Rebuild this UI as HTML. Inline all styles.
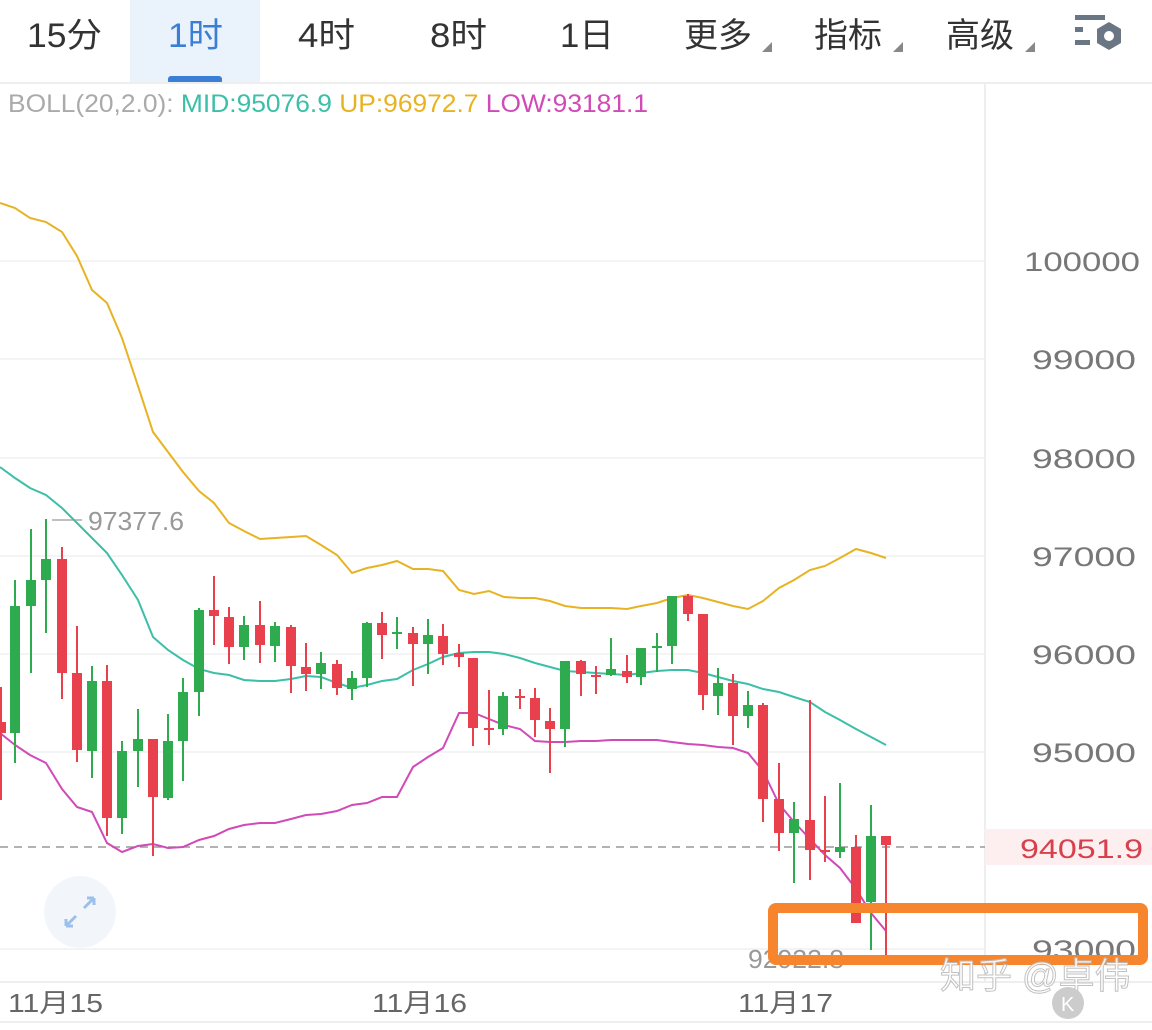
<!DOCTYPE html>
<html><head><meta charset="utf-8"><style>
body{margin:0;background:#fff;width:1152px;height:1025px;overflow:hidden;font-family:"Liberation Sans","Noto Sans CJK SC",sans-serif}
</style></head><body>
<svg width="1152" height="1025" xmlns="http://www.w3.org/2000/svg" font-family="Liberation Sans, Noto Sans CJK SC, sans-serif">
<rect x="130" y="0" width="130" height="82" fill="#eaf2fc"/>
<rect x="168" y="76" width="54" height="8" rx="3" fill="#3a7fd5"/>
<line x1="0" y1="83" x2="1152" y2="83" stroke="#eee" stroke-width="2"/>
<g font-size="34" fill="#333">
<text x="27" y="47" textLength="75" lengthAdjust="spacingAndGlyphs">15分</text>
<text x="168" y="47" fill="#3a7fd5" textLength="55" lengthAdjust="spacingAndGlyphs">1时</text>
<text x="298" y="47" textLength="57" lengthAdjust="spacingAndGlyphs">4时</text>
<text x="430" y="47" textLength="57" lengthAdjust="spacingAndGlyphs">8时</text>
<text x="560" y="47" textLength="54" lengthAdjust="spacingAndGlyphs">1日</text>
<text x="684" y="47">更多</text>
<text x="814" y="47">指标</text>
<text x="946" y="47">高级</text>
</g>
<g fill="#888"><path d="M762 52 L772 42 L772 52Z"/><path d="M893 52 L903 42 L903 52Z"/><path d="M1025 52 L1035 42 L1035 52Z"/></g>
<g fill="#6b7684"><rect x="1075" y="15" width="30" height="5"/><rect x="1075" y="27" width="8" height="5"/><rect x="1075" y="40" width="15" height="5"/>
<polygon points="1109,22 1121,29 1121,43 1109,50 1097,43 1097,29"/><circle cx="1109" cy="36" r="5" fill="#fff"/></g>
<line x1="985" y1="84" x2="985" y2="982" stroke="#eee" stroke-width="2"/>
<g stroke="#f0f0f0" stroke-width="1.5">
<line x1="0" y1="261" x2="985" y2="261"/><line x1="0" y1="359" x2="985" y2="359"/><line x1="0" y1="458" x2="985" y2="458"/><line x1="0" y1="556" x2="985" y2="556"/><line x1="0" y1="654" x2="985" y2="654"/><line x1="0" y1="752" x2="985" y2="752"/><line x1="0" y1="949" x2="985" y2="949"/>
</g>
<line x1="0" y1="982" x2="1152" y2="982" stroke="#eee" stroke-width="2"/>
<line x1="0" y1="1022" x2="1152" y2="1022" stroke="#eee" stroke-width="2"/>
<text x="8" y="112" font-size="25" textLength="640" lengthAdjust="spacingAndGlyphs"><tspan fill="#aaa">BOLL(20,2.0): </tspan><tspan fill="#3cbfa8">MID:95076.9 </tspan><tspan fill="#e8b323">UP:96972.7 </tspan><tspan fill="#d04ab8">LOW:93181.1</tspan></text>
<g font-size="27" fill="#777">
<text x="1024" y="271" textLength="116" lengthAdjust="spacingAndGlyphs">100000</text>
<text x="1032" y="369" textLength="104" lengthAdjust="spacingAndGlyphs">99000</text>
<text x="1032" y="468" textLength="104" lengthAdjust="spacingAndGlyphs">98000</text>
<text x="1032" y="566" textLength="104" lengthAdjust="spacingAndGlyphs">97000</text>
<text x="1032" y="664" textLength="104" lengthAdjust="spacingAndGlyphs">96000</text>
<text x="1032" y="762" textLength="104" lengthAdjust="spacingAndGlyphs">95000</text>
<text x="1032" y="959" textLength="104" lengthAdjust="spacingAndGlyphs">93000</text>
</g>
<rect x="985" y="829" width="167" height="36" fill="#fdeff0"/>
<text x="1020" y="858" font-size="27" fill="#d8404c" textLength="123" lengthAdjust="spacingAndGlyphs">94051.9</text>
<line x1="0" y1="847" x2="985" y2="847" stroke="#999" stroke-width="1.5" stroke-dasharray="8,6"/>
<g font-size="26" fill="#666"><text x="8" y="1012" textLength="95" lengthAdjust="spacingAndGlyphs">11月15</text><text x="372" y="1012" textLength="95" lengthAdjust="spacingAndGlyphs">11月16</text><text x="738" y="1012" textLength="95" lengthAdjust="spacingAndGlyphs">11月17</text></g>
<line x1="52" y1="520" x2="82" y2="520" stroke="#aaa" stroke-width="1.5"/>
<text x="88" y="530" font-size="26" fill="#999" textLength="96" lengthAdjust="spacingAndGlyphs">97377.6</text>
<text x="748" y="968" font-size="26" fill="#999" textLength="96" lengthAdjust="spacingAndGlyphs">92922.8</text>
<circle cx="80" cy="912" r="36" fill="#f2f6fb"/>
<path d="M66 926 L76 916 M66 926 L66 919 M66 926 L73 926 M94 898 L84 908 M94 898 L94 905 M94 898 L87 898" stroke="#9cc0ec" stroke-width="3" fill="none"/>
<polyline fill="none" stroke="#e8b323" stroke-width="2" points="0,203 15,208 30,218 46,222 62,232 77,256 92,290 107,303 122,338 138,386 153,432 168,452 183,472 199,491 214,503 229,523 244,531 260,539 275,538 291,537 306,536 321,545 337,555 352,573 367,568 382,565 397,561 413,569 428,569 443,571 459,590 474,594 489,591 504,597 520,598 535,598 550,601 565,606 581,608 596,608 611,608 627,609 641,606 657,603 672,598 688,595 703,598 718,602 733,606 748,609 763,601 779,588 794,580 810,570 825,566 840,558 856,549 871,553 886,558"/>
<polyline fill="none" stroke="#3cbfa8" stroke-width="2" points="0,467 15,478 30,488 46,495 62,508 77,523 92,538 107,553 122,575 138,600 153,637 168,650 183,660 199,669 214,673 229,675 244,680 260,681 275,681 291,679 306,676 321,677 337,683 352,688 367,685 382,681 397,679 413,670 428,664 443,657 459,653 474,652 489,652 504,654 520,658 535,663 550,667 565,671 581,672 596,673 611,674 627,675 641,673 657,671 672,670 688,670 703,673 718,677 733,681 748,684 763,689 779,692 794,697 810,702 825,712 840,720 856,729 871,737 886,745"/>
<polyline fill="none" stroke="#d04ab8" stroke-width="2" points="0,733 15,745 30,755 46,763 62,789 77,807 92,812 107,843 122,852 138,846 153,844 168,848 183,847 199,840 214,836 229,829 244,825 260,823 275,823 291,819 306,815 321,814 337,811 352,805 367,803 382,797 397,797 413,767 428,757 443,748 459,713 474,713 489,719 504,725 520,729 535,741 550,742 565,742 581,741 596,741 611,740 627,740 641,740 657,740 672,742 688,744 703,745 718,747 733,748 748,753 763,771 779,804 794,822 810,839 825,855 840,868 856,889 871,913 886,931"/>
<g stroke-width="2">
<g fill="#e8404c" stroke="#e8404c">
<line x1="1" y1="687" x2="1" y2="800"/><rect x="-4" y="722" width="10" height="11" stroke="none"/>
<line x1="62" y1="547" x2="62" y2="699"/><rect x="57" y="559" width="10" height="114" stroke="none"/>
<line x1="77" y1="626" x2="77" y2="762"/><rect x="72" y="673" width="10" height="77" stroke="none"/>
<line x1="107" y1="665" x2="107" y2="836"/><rect x="102" y="681" width="10" height="137" stroke="none"/>
<line x1="153" y1="739" x2="153" y2="856"/><rect x="148" y="739" width="10" height="58" stroke="none"/>
<line x1="214" y1="576" x2="214" y2="645"/><rect x="209" y="610" width="10" height="6" stroke="none"/>
<line x1="229" y1="607" x2="229" y2="664"/><rect x="224" y="617" width="10" height="30" stroke="none"/>
<line x1="260" y1="601" x2="260" y2="663"/><rect x="255" y="625" width="10" height="20" stroke="none"/>
<line x1="291" y1="625" x2="291" y2="693"/><rect x="286" y="627" width="10" height="39" stroke="none"/>
<line x1="306" y1="643" x2="306" y2="691"/><rect x="301" y="667" width="10" height="7" stroke="none"/>
<line x1="337" y1="660" x2="337" y2="695"/><rect x="332" y="664" width="10" height="24" stroke="none"/>
<line x1="382" y1="612" x2="382" y2="659"/><rect x="377" y="623" width="10" height="12" stroke="none"/>
<line x1="413" y1="627" x2="413" y2="686"/><rect x="408" y="633" width="10" height="11" stroke="none"/>
<line x1="443" y1="624" x2="443" y2="665"/><rect x="438" y="636" width="10" height="18" stroke="none"/>
<line x1="459" y1="644" x2="459" y2="667"/><rect x="454" y="653" width="10" height="4" stroke="none"/>
<line x1="473" y1="658" x2="473" y2="746"/><rect x="468" y="658" width="10" height="70" stroke="none"/>
<line x1="489" y1="690" x2="489" y2="745"/><rect x="484" y="728" width="10" height="2" stroke="none"/>
<line x1="520" y1="689" x2="520" y2="709"/><rect x="515" y="696" width="10" height="2" stroke="none"/>
<line x1="535" y1="688" x2="535" y2="737"/><rect x="530" y="698" width="10" height="22" stroke="none"/>
<line x1="550" y1="708" x2="550" y2="773"/><rect x="545" y="721" width="10" height="8" stroke="none"/>
<line x1="581" y1="660" x2="581" y2="696"/><rect x="576" y="661" width="10" height="13" stroke="none"/>
<line x1="596" y1="666" x2="596" y2="694"/><rect x="591" y="675" width="10" height="2" stroke="none"/>
<line x1="627" y1="655" x2="627" y2="683"/><rect x="622" y="671" width="10" height="6" stroke="none"/>
<line x1="688" y1="594" x2="688" y2="621"/><rect x="683" y="596" width="10" height="18" stroke="none"/>
<line x1="703" y1="614" x2="703" y2="710"/><rect x="698" y="614" width="10" height="81" stroke="none"/>
<line x1="733" y1="674" x2="733" y2="745"/><rect x="728" y="683" width="10" height="33" stroke="none"/>
<line x1="763" y1="703" x2="763" y2="822"/><rect x="758" y="705" width="10" height="94" stroke="none"/>
<line x1="779" y1="763" x2="779" y2="851"/><rect x="774" y="799" width="10" height="34" stroke="none"/>
<line x1="810" y1="700" x2="810" y2="880"/><rect x="805" y="820" width="10" height="30" stroke="none"/>
<line x1="825" y1="796" x2="825" y2="862"/><rect x="820" y="850" width="10" height="2" stroke="none"/>
<line x1="856" y1="835" x2="856" y2="922"/><rect x="851" y="847" width="10" height="76" stroke="none"/>
<line x1="886" y1="836" x2="886" y2="957"/><rect x="881" y="836" width="10" height="9" stroke="none"/>
</g>
<g fill="#2eaa4f" stroke="#2eaa4f">
<line x1="15" y1="580" x2="15" y2="763"/><rect x="10" y="606" width="10" height="127" stroke="none"/>
<line x1="31" y1="529" x2="31" y2="673"/><rect x="26" y="580" width="10" height="26" stroke="none"/>
<line x1="46" y1="519" x2="46" y2="633"/><rect x="41" y="559" width="10" height="21" stroke="none"/>
<line x1="92" y1="666" x2="92" y2="778"/><rect x="87" y="681" width="10" height="70" stroke="none"/>
<line x1="122" y1="741" x2="122" y2="834"/><rect x="117" y="751" width="10" height="67" stroke="none"/>
<line x1="138" y1="709" x2="138" y2="787"/><rect x="133" y="739" width="10" height="12" stroke="none"/>
<line x1="168" y1="714" x2="168" y2="800"/><rect x="163" y="741" width="10" height="57" stroke="none"/>
<line x1="183" y1="678" x2="183" y2="781"/><rect x="178" y="692" width="10" height="49" stroke="none"/>
<line x1="199" y1="608" x2="199" y2="716"/><rect x="194" y="610" width="10" height="82" stroke="none"/>
<line x1="244" y1="616" x2="244" y2="660"/><rect x="239" y="625" width="10" height="22" stroke="none"/>
<line x1="275" y1="622" x2="275" y2="662"/><rect x="270" y="626" width="10" height="20" stroke="none"/>
<line x1="321" y1="652" x2="321" y2="689"/><rect x="316" y="663" width="10" height="11" stroke="none"/>
<line x1="352" y1="671" x2="352" y2="700"/><rect x="347" y="678" width="10" height="11" stroke="none"/>
<line x1="367" y1="622" x2="367" y2="687"/><rect x="362" y="623" width="10" height="55" stroke="none"/>
<line x1="397" y1="617" x2="397" y2="649"/><rect x="392" y="632" width="10" height="2" stroke="none"/>
<line x1="428" y1="619" x2="428" y2="674"/><rect x="423" y="635" width="10" height="9" stroke="none"/>
<line x1="503" y1="692" x2="503" y2="735"/><rect x="498" y="696" width="10" height="33" stroke="none"/>
<line x1="565" y1="661" x2="565" y2="747"/><rect x="560" y="661" width="10" height="68" stroke="none"/>
<line x1="611" y1="638" x2="611" y2="676"/><rect x="606" y="669" width="10" height="6" stroke="none"/>
<line x1="641" y1="648" x2="641" y2="685"/><rect x="636" y="648" width="10" height="29" stroke="none"/>
<line x1="657" y1="633" x2="657" y2="672"/><rect x="652" y="646" width="10" height="2" stroke="none"/>
<line x1="672" y1="596" x2="672" y2="664"/><rect x="667" y="596" width="10" height="50" stroke="none"/>
<line x1="718" y1="668" x2="718" y2="715"/><rect x="713" y="683" width="10" height="13" stroke="none"/>
<line x1="748" y1="691" x2="748" y2="728"/><rect x="743" y="705" width="10" height="11" stroke="none"/>
<line x1="794" y1="802" x2="794" y2="883"/><rect x="789" y="819" width="10" height="14" stroke="none"/>
<line x1="840" y1="783" x2="840" y2="858"/><rect x="835" y="847" width="10" height="5" stroke="none"/>
<line x1="871" y1="805" x2="871" y2="950"/><rect x="866" y="836" width="10" height="66" stroke="none"/>
</g>
</g>
<rect x="773" y="908" width="370" height="52" rx="3" fill="none" stroke="#f6852d" stroke-width="10"/>
<text x="940" y="988" font-size="36" fill="#fff" stroke="#bbb" stroke-width="1" opacity="0.9">知乎 @卓伟</text>
<circle cx="1068" cy="1003" r="16" fill="#ccc"/>
<text x="1061" y="1011" font-size="20" fill="#fff">K</text>
</svg>
</body></html>
